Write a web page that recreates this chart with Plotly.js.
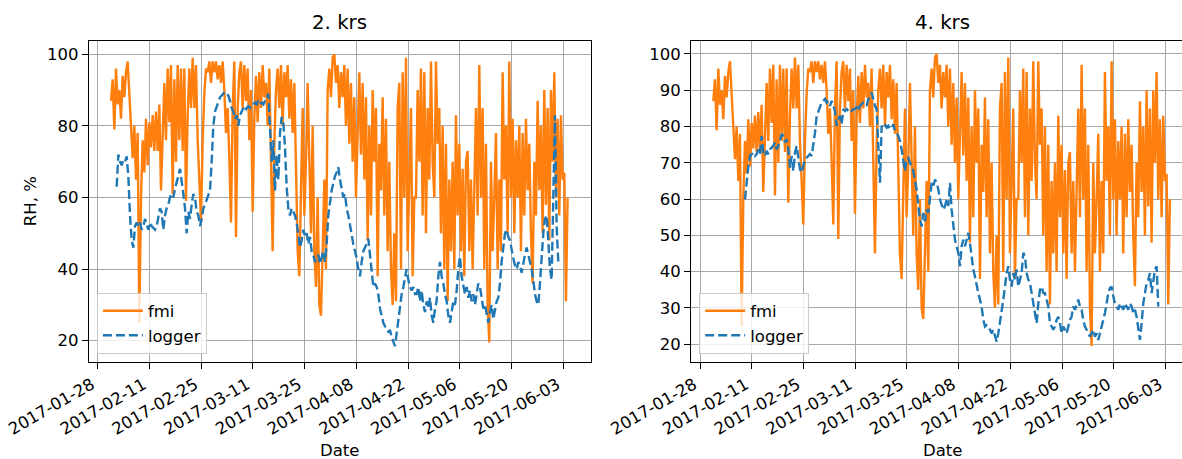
<!DOCTYPE html>
<html>
<head>
<meta charset="utf-8">
<script src="https://cdn.plot.ly/plotly-3.0.1.min.js"></script>
<style>
html,body{margin:0;padding:0;overflow:hidden;background:#fff;}
#chart{width:1200px;height:459px;}
</style>
</head>
<body>
<div id="chart"></div>
<script>
// ---- data ----
const panelTitles = ['2. krs', '4. krs'];
const seriesNames = ['fmi', 'logger'];
const yLabel = 'RH, %';
const xLabel = 'Date';
const tickStart = '2017-01-28';
const tickStepDays = 14;

// sampling step of the read-off values (days)
const sampleStepDays = 0.451;

// FMI relative humidity (same station series shown in both panels)
const fmiStart = '2017-01-31 14:24';
const fmi = [
  87,93,79,96,86,90,82,94,88,95,
  98,90,81,71,80,65,78,25,60,76,
  67,82,69,81,74,83,73,84,73,86,
  62,80,92,76,96,81,97,61,93,70,
  97,76,96,73,96,59,83,96,85,99,
  85,97,76,65,53,76,89,96,95,98,
  92,98,95,98,93,97,92,98,90,78,
  85,71,53,85,98,49,85,95,98,85,
  97,87,96,76,90,56,82,94,81,
  95,85,97,88,92,80,96,70,45,75,
  90,96,85,97,80,95,88,97,82,93,
  78,92,70,45,38,60,85,55,70,92,
  65,50,80,45,35,60,30,27,45,65,
  40,90,96,88,99,100,92,97,85,95,
  88,97,80,96,75,92,70,88,60,80,
  95,72,92,65,88,48,80,55,90,70,
  85,38,75,62,88,55,82,45,70,40,
  30,50,31,85,92,40,95,60,99,45,
  70,85,38,60,
  60,90,70,96,55,95,50,85,65,98,
  70,60,98,75,85,50,80,40,75,31,
  65,45,70,40,83,55,75,45,68,38,
  70,73,45,65,40,60,85,55,97,60,
  85,40,75,30,19.5,70,45,60,78,40,
  65,45,95,65,80,50,98,60,82,50,
  76,60,80,45,78,55,82,62,75,50,
  36,70,55,87,62,80,50,90,58,85,
  48,90,70,95,60,82,55,83,65,67,
  31,60
];

// logger, 2. krs
const logger2Start = '2017-02-02 03:13';
const logger2 = [
  63,72,70,69,70.5,70,71.5,66,55,48,
  46,52,53,52,53,51,52,54,52.5,51,
  53,52,51.5,51,52,55,57,56,51,55,
  57,58,60,61,60,62.5,64,66,68,65,
  61,57,50,56,54,58,61,60,56,55,
  52,54,57,58,59.5,61,62,70,80,84,
  85.5,87,88,88.5,89,89.5,89,88.5,87,85,
  84,82,83,80,83,84,85,84,85,85.5,
  85,86,86,86.5,86,87,
  86,86.5,86,87,87.5,89,80,70,76,62,
  72,65,78,82.5,81,74,63,57,55,57,
  56,55,53,50,46,48,51,49,50,47,
  49,45,44,42,43,44,41.5,43,45,42,
  47,55,59,62,64,66,67,68.5,65,62,
  60,61,57,55,52,50,47,45,43,40,
  38,42,45,46,47,48.5,44,38,35,36,
  35,33,29,27,25,24,23.5,22.5,23,21,
  20,18.5,22,26,30,33,35,38,40,37,
  35,34,35,33,
  33,35,31,34,30,28,31,29,32,27,
  25,29,31,38,42,38,36,33,31,27,
  25,28,31,30,34,40,43.5,38,35,33,
  35,32,34,31,33,30,33,36,35,32,
  29,30,27,25,28,30,26,29,31,32,
  36,42,47,50,51,49,48,45,43,41,
  40,42,41,39,42,44,46,44,42,40,
  37,33,31,30,36,45,50,54,55,48,
  40,37,60,83,52,42
];

// logger, 4. krs
const logger4Start = '2017-02-09 04:12';
const logger4 = [
  59.9,65.4,69.1,71.9,72.4,72.8,71.9,72.4,73.7,72.4,
  77.4,72.8,71.9,73.3,72.4,73.7,74.2,74.7,75.6,73.7,
  74.7,76.5,77.9,77.4,75.6,76.5,73.7,68.7,71.9,67.7,
  72.8,74.7,71.9,68.2,67.3,69.1,71.0,71.4,71.9,72.4,
  71.9,74.7,78.3,82.9,84.3,85.7,86.6,87.1,87.6,86.6,
  87.1,85.7,87.1,85.7,84.3,80.2,82.0,82.9,80.6,84.8,
  84.3,84.8,84.3,84.8,84.3,84.8,
  84.8,85.3,84.3,85.7,86.2,86.6,86.2,85.7,87.6,88.0,
  89.4,87.1,85.7,84.8,76.5,64.5,80.2,79.7,80.6,79.7,
  80.2,79.3,79.7,80.6,78.8,78.3,77.4,76.0,73.7,71.0,
  67.7,71.0,71.4,70.0,69.1,67.7,65.4,62.7,58.1,54.4,
  52.5,56.2,53.9,57.1,56.2,60.8,64.5,63.6,65.4,64.5,
  62.7,59.9,58.1,57.1,58.1,59.9,58.1,64.5,57.1,53.5,
  48.8,47.0,45.2,41.5,47.0,48.8,47.0,48.8,50.7,47.9,
  44.2,40.6,38.7,35.9,34.1,32.3,30.4,26.7,24.9,25.3,
  24.9,24.0,23.0,24.0,22.1,20.7,23.0,25.8,29.5,32.3,
  35.9,39.6,41.5,
  37.8,35.9,39.6,37.8,40.6,35.9,37.8,39.6,45.2,44.2,
  39.6,37.8,36.9,34.1,31.3,28.6,25.8,31.3,35.0,35.9,
  34.1,34.1,32.3,30.4,25.8,24.9,24.0,24.9,26.7,27.6,
  25.8,23.0,24.9,24.0,23.0,24.9,26.7,27.6,30.4,29.5,
  31.3,32.3,30.4,29.5,26.7,24.9,24.0,23.0,22.1,23.0,
  24.0,22.1,23.0,21.2,23.0,24.9,26.7,28.6,31.3,34.1,
  35.5,35.9,33.2,31.3,30.4,29.5,31.3,30.4,29.5,31.3,
  30.4,29.5,31.3,30.4,28.6,29.5,27.6,24.0,21.2,25.8,
  31.3,34.1,36.9,37.8,39.6,34.1,37.8,40.6,41.5,30.4
];

const xRange = ['2017-01-25 13:30', '2017-06-10 12:00'];
const yRange2 = [14.13, 103.8];
const yRange4 = [15.2, 103.66];

// ---- drawing ----
const W = 1200, H = 459;
const DAY = 86400000;
const ORANGE = '#ff7f0e', BLUE = '#1f77b4';
const FS = 16.5;

const px = v => v / W;
const py = v => 1 - v / H;

const dom1 = [px(88.7), px(591)];
const dom2 = [px(691), px(1193.3)];
const ydom = [py(361.7), py(40.7)];

function xAxis(domain, anchor) {
  return {
    domain: domain, anchor: anchor, type: 'date', range: xRange,
    tick0: tickStart, dtick: tickStepDays * DAY, tickformat: '%Y-%m-%d',
    tickangle: -30, ticklabelshift: -6,
    ticks: 'outside', ticklen: 6, tickwidth: 1, tickcolor: '#000',
    showline: true, mirror: true, linecolor: '#000', linewidth: 1,
    showgrid: true, gridcolor: '#a8a8a8', gridwidth: 1, zeroline: false,
    automargin: false, tickfont: {size: FS, color: '#000'}
  };
}
function yAxis(range, dtick, anchor) {
  return {
    domain: ydom, anchor: anchor, range: range, tick0: 0, dtick: dtick,
    ticks: 'outside', ticklen: 6, tickwidth: 1, tickcolor: '#000',
    showline: true, mirror: true, linecolor: '#000', linewidth: 1,
    showgrid: true, gridcolor: '#a8a8a8', gridwidth: 1, zeroline: false,
    automargin: false, tickfont: {size: FS, color: '#000'}
  };
}

const lw = 2.4;
const dashStyle = '9px,4px';
const traces = [
  {type: 'scatter', mode: 'lines', name: seriesNames[0], x0: fmiStart, dx: sampleStepDays * DAY,
   y: fmi, xaxis: 'x', yaxis: 'y', line: {color: ORANGE, width: lw}, legend: 'legend'},
  {type: 'scatter', mode: 'lines', name: seriesNames[1], x0: logger2Start, dx: sampleStepDays * DAY,
   y: logger2, xaxis: 'x', yaxis: 'y', line: {color: BLUE, width: lw, dash: dashStyle}, legend: 'legend'},
  {type: 'scatter', mode: 'lines', name: seriesNames[0], x0: fmiStart, dx: sampleStepDays * DAY,
   y: fmi, xaxis: 'x2', yaxis: 'y2', line: {color: ORANGE, width: lw}, legend: 'legend2'},
  {type: 'scatter', mode: 'lines', name: seriesNames[1], x0: logger4Start, dx: sampleStepDays * DAY,
   y: logger4, xaxis: 'x2', yaxis: 'y2', line: {color: BLUE, width: lw, dash: dashStyle}, legend: 'legend2'}
];

function legendAt(xpx) {
  return {
    x: px(xpx), y: py(353.5), xanchor: 'left', yanchor: 'bottom',
    bgcolor: 'rgba(255,255,255,0.8)', bordercolor: '#cccccc', borderwidth: 1,
    font: {size: FS, color: '#000'}, itemwidth: 40, traceorder: 'normal'
  };
}

const mid1 = (dom1[0] + dom1[1]) / 2, mid2 = (dom2[0] + dom2[1]) / 2;
const annotations = [
  {text: panelTitles[0], x: mid1, y: ydom[1], xref: 'paper', yref: 'paper', xanchor: 'center', yanchor: 'bottom', yshift: 5, showarrow: false, font: {size: 19.8, color: '#000'}},
  {text: panelTitles[1], x: mid2, y: ydom[1], xref: 'paper', yref: 'paper', xanchor: 'center', yanchor: 'bottom', yshift: 5, showarrow: false, font: {size: 19.8, color: '#000'}},
  {text: xLabel, x: mid1, y: py(450), xref: 'paper', yref: 'paper', xanchor: 'center', yanchor: 'middle', showarrow: false, font: {size: FS, color: '#000'}},
  {text: xLabel, x: mid2, y: py(450), xref: 'paper', yref: 'paper', xanchor: 'center', yanchor: 'middle', showarrow: false, font: {size: FS, color: '#000'}},
  {text: yLabel, x: px(30), y: (ydom[0] + ydom[1]) / 2, xref: 'paper', yref: 'paper', xanchor: 'center', yanchor: 'middle', textangle: -90, showarrow: false, font: {size: FS, color: '#000'}}
];

const layout = {
  width: W, height: H,
  margin: {l: 0, r: 0, t: 0, b: 0, pad: 0},
  paper_bgcolor: '#fff', plot_bgcolor: '#fff',
  font: {family: 'DejaVu Sans, sans-serif', size: FS, color: '#000'},
  showlegend: true,
  xaxis: xAxis(dom1, 'y'),
  yaxis: yAxis(yRange2, 20, 'x'),
  xaxis2: xAxis(dom2, 'y2'),
  yaxis2: yAxis(yRange4, 10, 'x2'),
  legend: legendAt(96.9),
  legend2: legendAt(699.2),
  annotations: annotations
};

Plotly.newPlot('chart', traces, layout, {displayModeBar: false, staticPlot: true});
</script>
</body>
</html>
